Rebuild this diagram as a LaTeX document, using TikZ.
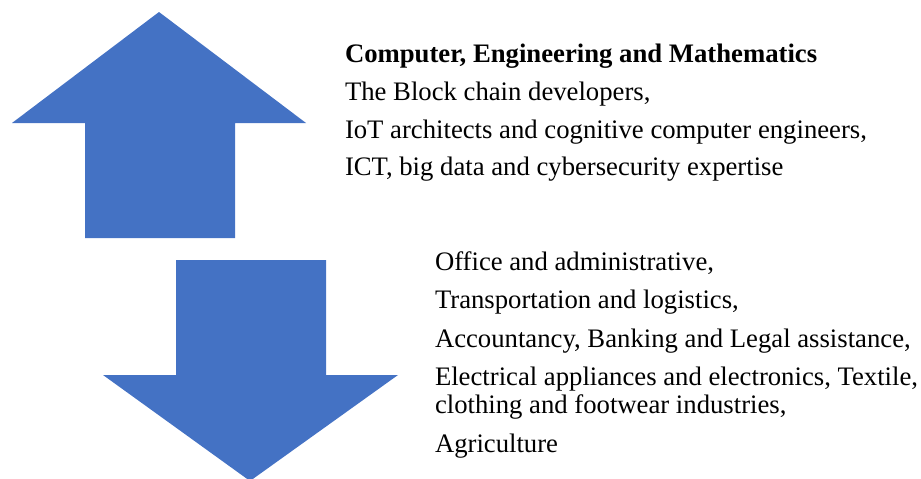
\documentclass[tikz,border=0pt]{standalone}
\usepackage{fontspec}
\setmainfont{Liberation Serif}
\definecolor{arrowblue}{HTML}{4472C4}
\tikzset{
  bigarrow/.style={fill=arrowblue, draw=none},
  txt/.style={anchor=base west, inner sep=0pt, outer sep=0pt, font=\fontsize{26.7}{30}\selectfont, text=black},
  hdr/.style={txt, font=\fontsize{26.7}{30}\selectfont\bfseries}
}
\begin{document}
\begin{tikzpicture}[x=1pt,y=-1pt]
\useasboundingbox (0,0) rectangle (921,479);
% up arrow
\path[bigarrow] (159,12) -- (306,123) -- (235,123) -- (235,238) -- (85,238) -- (85,123) -- (12,123) -- cycle;
% down arrow
\path[bigarrow] (176,260) -- (326,260) -- (326,375) -- (398,375) -- (250,481) -- (103,375) -- (176,375) -- cycle;
% top text
\node[hdr] (h1) at (345,62) {Computer, Engineering and Mathematics};
\node[txt] (t1) at (345,100) {The Block chain developers,};
\node[txt] (t2) at (345,138) {IoT architects and cognitive computer engineers,};
\node[txt] (t3) at (345,175) {ICT, big data and cybersecurity expertise};
% bottom text
\node[txt] (b1) at (435,270) {Office and administrative,};
\node[txt] (b2) at (435,308) {Transportation and logistics,};
\node[txt] (b3) at (435,347) {Accountancy, Banking and Legal assistance,};
\node[txt] (b4) at (435,385) {Electrical appliances and electronics, Textile,};
\node[txt] (b5) at (435,413) {clothing and footwear industries,};
\node[txt] (b6) at (435,452) {Agriculture};
\end{tikzpicture}
\end{document}
